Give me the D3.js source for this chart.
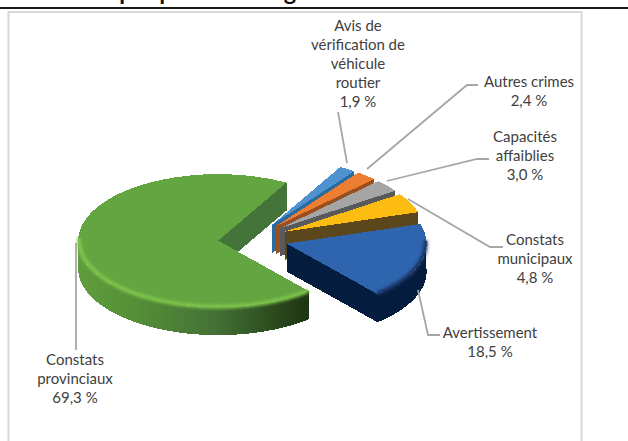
<!DOCTYPE html>
<html lang="fr">
<head>
    <meta charset="UTF-8">
    <title>Graphique</title>
    <style>
        body { margin: 0; background: #fff; overflow: hidden; }
        svg { display: block; }
        .label { font-family: Lato, 'Open Sans', sans-serif; font-size: 15px; fill: #404040; text-anchor: middle; }
        .title { font-family: Lato, sans-serif; font-size: 23.5px; font-weight: bold; fill: #111; text-anchor: middle; }
        .leader { fill: none; stroke: #a6a6a6; stroke-width: 1.8; }
        .face { shape-rendering: crispEdges; }
    </style>
</head>
<body>
<div id="chart"></div>
<script src="https://d3js.org/d3.v7.min.js"></script>
<script>
    // values, clockwise from the big slice
    const categories = ["Constats provinciaux", "Avis de vérification de véhicule routier", "Autres crimes",
        "Capacités affaiblies", "Constats municipaux", "Avertissement"];
    const values = [69.3, 1.9, 2.4, 3.0, 4.8, 18.5];
    const valueLabels = ["69,3 %", "1,9 %", "2,4 %", "3,0 %", "4,8 %", "18,5 %"];

    const topColors = ["#63a540", "#4e93d0", "#ed7d31", "#a5a5a5", "#fdbc12", "#2f65ae"];
    const cutColors = ["#44743a", "#2a6a9c", "#9a4f20", "#58595b", "#5b471b", "#041d3f"];
    const wallColors = ["url(#greenWall)", "#2f73a8", "#a9561f", "#6a6a6a", "#8a6a12", "#041d3f"];
    const rimColors = ["#7fc64c", null, null, null, null, "#14305e"];

    // label lines and where they sit, same order as categories
    const labelLines = [["Constats", "provinciaux"], ["Avis de", "vérification de", "véhicule", "routier"],
        ["Autres crimes"], ["Capacités", "affaiblies"], ["Constats", "municipaux"], ["Avertissement"]];
    const labelAnchors = [[75, 360], [358, 26], [529, 82], [525, 137], [535, 240], [490, 333]];
    const leaders = [
        [[76, 243], [76, 350]],
        [[338, 112], [347, 163]],
        [[367, 169], [467, 85], [478, 85]],
        [[387, 181], [477, 159], [489, 159]],
        [[408, 199], [490, 247], [503, 247]],
        [[418, 290], [428, 335], [440, 335]]
    ];

    const width = 628, height = 441;
    const cx = 253, cy = 239, radius = 140, tilt = 0.475, depth = 28, explode = 35;
    const startDeg = 139.5;

    const svg = d3.select("#chart").append("svg").attr("width", width).attr("height", height);
    const defs = svg.append("defs");

    const grad = defs.append("linearGradient").attr("id", "greenWall")
        .attr("gradientUnits", "userSpaceOnUse")
        .attr("x1", 77).attr("x2", 310).attr("y1", 0).attr("y2", 0);
    [[0, "#5f9e3c"], [0.25, "#558f38"], [0.6, "#437035"], [0.85, "#2a4a1d"], [1, "#1f3314"]].forEach(s =>
        grad.append("stop").attr("offset", s[0]).attr("stop-color", s[1]));

    defs.append("filter").attr("id", "soft").append("feGaussianBlur").attr("stdDeviation", 1.6);

    // frame and rule
    svg.append("text").attr("class", "title").attr("x", 296).attr("y", 0)
        .text("Graphique 1 – Catégories d’interventions");
    svg.append("rect").attr("x", 0).attr("y", 7).attr("width", width).attr("height", 2).attr("fill", "#1a1a1a");
    svg.append("rect").attr("x", 8.5).attr("y", 12).attr("width", 573).attr("height", height)
        .attr("fill", "#fff").attr("stroke", "#d9d9d9").attr("stroke-width", 2);

    const pie = d3.pie().sort(null)
        .startAngle(startDeg * Math.PI / 180)
        .endAngle((startDeg + 360) * Math.PI / 180);
    const slices = pie(values);

    const arc = d3.arc().innerRadius(0).outerRadius(radius);
    const line = d3.line();

    slices.forEach((s, i) => {
        const mid = (s.startAngle + s.endAngle) / 2;
        const ox = cx + explode * Math.sin(mid);
        const oy = cy - explode * Math.cos(mid) * tilt;
        const px = a => ox + radius * Math.sin(a);
        const py = a => oy - radius * Math.cos(a) * tilt;

        const g = svg.append("g");

        // cut faces
        [s.startAngle, s.endAngle].forEach(a => {
            g.append("path").attr("class", "face").attr("fill", cutColors[i])
                .attr("d", line([[ox, oy], [px(a), py(a)], [px(a), py(a) + depth], [ox, oy + depth]]) + "Z");
        });

        // outer wall, only the part turned towards the viewer
        const angles = d3.range(s.startAngle, s.endAngle, 0.01).concat([s.endAngle]).filter(a => Math.cos(a) < 0.05);
        if (angles.length > 1) {
            const pts = angles.map(a => [px(a), py(a)])
                .concat(angles.slice().reverse().map(a => [px(a), py(a) + depth]));
            g.append("path").attr("class", "face").attr("fill", wallColors[i]).attr("d", line(pts) + "Z");
        }

        // top face
        g.append("path").attr("class", "face").attr("fill", topColors[i])
            .attr("transform", `translate(${ox},${oy}) scale(1,${tilt})`)
            .attr("d", arc(s));

        // bevel along the front of the rim
        if (rimColors[i]) {
            const rimAngles = angles.filter(a => Math.cos(a) < 0.2 && (i > 0 || a < 5.6));
            g.append("path").attr("fill", "none").attr("stroke", rimColors[i]).attr("stroke-width", 4)
                .attr("filter", "url(#soft)")
                .attr("d", line(rimAngles.map(a => [ox + (radius - 1) * Math.sin(a), oy - (radius - 1) * Math.cos(a) * tilt])));
        }
    });

    // leaders and labels
    svg.selectAll(".leader").data(leaders).enter().append("path")
        .attr("class", "leader").attr("d", d => line(d));

    categories.forEach((c, i) => {
        const rows = labelLines[i].concat([valueLabels[i]]);
        const t = svg.append("text").attr("class", "label");
        rows.forEach((r, j) => {
            t.append("tspan").attr("x", labelAnchors[i][0])
                .attr("y", labelAnchors[i][1] + j * 19 + 5).text(r);
        });
    });
</script>
</body>
</html>
